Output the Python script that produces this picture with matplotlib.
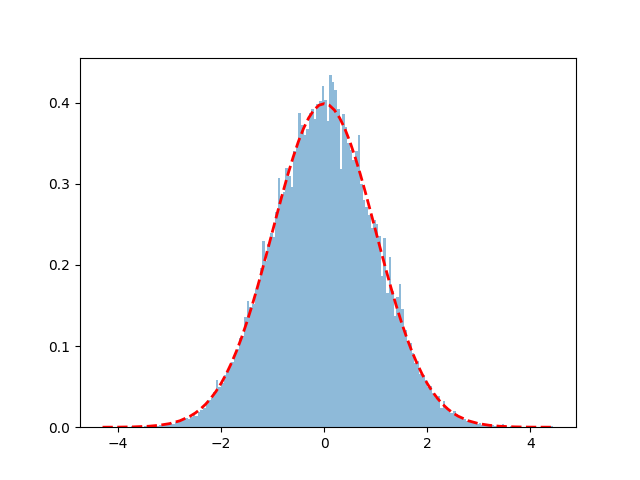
import numpy as np
import matplotlib
matplotlib.use('Agg')
import matplotlib.pyplot as plt

# histogram: bin width 0.05, first edge at -4.3
bin_start = -4.3
bin_width = 0.05
heights = [
    # -4.3 .. -3.3
    0.001, 0, 0, 0, 0, 0, 0, 0.001, 0, 0, 0, 0.001, 0, 0, 0.001, 0, 0.001, 0.001, 0, 0.002,
    # -3.3 .. -2.3
    0.002, 0.001, 0.003, 0.002, 0.003, 0.004, 0.005, 0.004, 0.006, 0.008,
    0.010, 0.009, 0.011, 0.010, 0.013, 0.015, 0.014, 0.019, 0.021, 0.024,
    # -2.3 .. -1.3
    0.029, 0.034, 0.036, 0.043, 0.058, 0.050, 0.055, 0.064, 0.068, 0.077,
    0.081, 0.092, 0.096, 0.110, 0.113, 0.136, 0.155, 0.148, 0.152, 0.170,
    # -1.3 .. -0.3
    0.176, 0.196, 0.229, 0.205, 0.226, 0.240, 0.235, 0.265, 0.307, 0.285,
    0.290, 0.320, 0.310, 0.296, 0.340, 0.345, 0.388, 0.372, 0.360, 0.368,
    # -0.3 .. 0.7
    0.388, 0.392, 0.380, 0.398, 0.402, 0.421, 0.404, 0.377, 0.434, 0.426,
    0.416, 0.392, 0.318, 0.386, 0.370, 0.350, 0.342, 0.330, 0.340, 0.360,
    # 0.7 .. 1.7
    0.300, 0.280, 0.272, 0.262, 0.246, 0.255, 0.250, 0.236, 0.186, 0.233,
    0.166, 0.210, 0.168, 0.137, 0.160, 0.176, 0.146, 0.120, 0.105, 0.104,
    # 1.7 .. 2.7
    0.092, 0.079, 0.082, 0.066, 0.064, 0.058, 0.050, 0.051, 0.042, 0.036,
    0.038, 0.024, 0.032, 0.025, 0.021, 0.018, 0.020, 0.016, 0.012, 0.011,
    # 2.7 .. 3.7
    0.010, 0.008, 0.009, 0.006, 0.005, 0.004, 0.005, 0.003, 0.003, 0.002,
    0.002, 0.003, 0.001, 0.002, 0.001, 0.004, 0.001, 0, 0.001, 0,
    # 3.7 .. 4.45
    0, 0.001, 0, 0, 0, 0, 0, 0.001, 0, 0, 0, 0, 0, 0, 0.001,
]

# red dashed curve
curve_x = [-4.3, -4.0, -3.7, -3.4, -3.2, -3.0, -2.8, -2.6, -2.5, -2.4, -2.3, -2.2,
           -2.1, -2.0, -1.9, -1.8, -1.7, -1.6, -1.5, -1.4, -1.3, -1.2, -1.1, -1.0,
           -0.9, -0.8, -0.7, -0.6, -0.5, -0.4, -0.3, -0.2, -0.1, 0.0,
           0.1, 0.2, 0.3, 0.4, 0.5, 0.6, 0.7, 0.8, 0.9, 1.0, 1.1, 1.2, 1.3, 1.4,
           1.5, 1.6, 1.7, 1.8, 1.9, 2.0, 2.1, 2.2, 2.3, 2.4, 2.5, 2.6, 2.8, 3.0,
           3.2, 3.4, 3.7, 4.0, 4.43]
curve_y = [0.0000, 0.0001, 0.0004, 0.0012, 0.0024, 0.0044, 0.0079, 0.0136, 0.0175,
           0.0224, 0.0283, 0.0355, 0.0440, 0.0540, 0.0656, 0.0790, 0.0940, 0.1109,
           0.1295, 0.1497, 0.1714, 0.1942, 0.2179, 0.2420, 0.2661, 0.2897, 0.3123,
           0.3332, 0.3521, 0.3683, 0.3814, 0.3910, 0.3970, 0.3989,
           0.3970, 0.3910, 0.3814, 0.3683, 0.3521, 0.3332, 0.3123, 0.2897, 0.2661,
           0.2420, 0.2179, 0.1942, 0.1714, 0.1497, 0.1295, 0.1109, 0.0940, 0.0790,
           0.0656, 0.0540, 0.0440, 0.0355, 0.0283, 0.0224, 0.0175, 0.0136, 0.0079,
           0.0044, 0.0024, 0.0012, 0.0004, 0.0001, 0.0000]

edges = bin_start + bin_width * np.arange(len(heights) + 1)

fig, ax = plt.subplots(figsize=(6.4, 4.8), dpi=100)
ax.hist(edges[:-1], bins=edges, weights=heights, alpha=0.5)
ax.plot(curve_x, curve_y, 'r--', linewidth=2)

fig.savefig('out.png')
